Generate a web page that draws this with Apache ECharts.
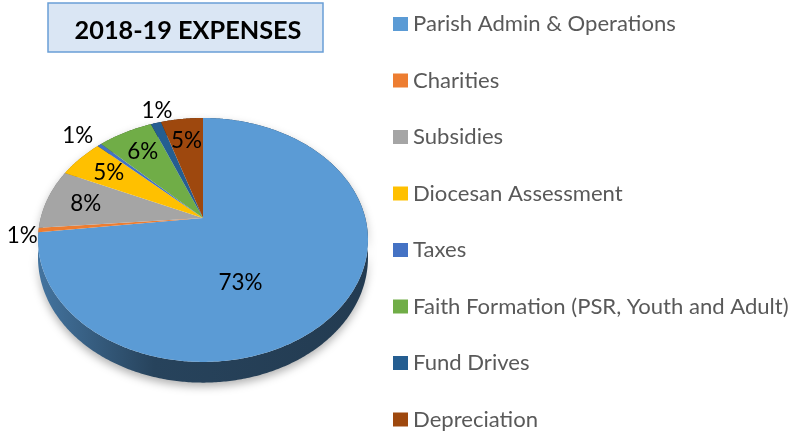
<!DOCTYPE html>
<html>
<head>
<meta charset="utf-8">
<script src="https://cdn.jsdelivr.net/npm/echarts@6/dist/echarts.min.js"></script>
<style>
  html, body { margin: 0; padding: 0; background: #fff; }
  #chart { width: 794px; height: 435px; }
</style>
</head>
<body>
<div id="chart"></div>
<script>
// data (shares in %)
const categories = [
  "Parish Admin & Operations",
  "Charities",
  "Subsidies",
  "Diocesan Assessment",
  "Taxes",
  "Faith Formation (PSR, Youth and Adult)",
  "Fund Drives",
  "Depreciation"
];
const values = [73.1, 0.6, 8.0, 5.3, 0.5, 6.4, 1.2, 4.9];
const colors = ["#5b9bd5", "#ed7d31", "#a5a5a5", "#ffc000", "#4472c4", "#70ad47", "#255e91", "#9e480e"];
const titleText = "2018-19 EXPENSES";

// label tweaks (pixels) so the percentages sit where Excel put them
const labelNudge = [[-27, 23], [9, 4], [0, 0], [0, 0], [-8, 0], [0, 0], [7, 0], [0, 0]];

// pie geometry: tilted disc with a bit of perspective
const CX = 203, CY = 218, RX = 162.3, RY = 118, T = 0.18, DEPTH = 17;
const FONT = "Lato";

const ctx = document.createElement("canvas").getContext("2d");
function fit(text, weight, width) {
  ctx.font = weight + " 100px " + FONT;
  return 100 * width / ctx.measureText(text).width;
}
const legendSize = fit(categories[5], "normal", 376);
const labelSize = fit("73%", "normal", 44);
const titleSize = fit(titleText, "bold", 227);

const total = values.reduce((a, b) => a + b, 0);
const startAng = [], endAng = [];
let acc = 0;
values.forEach((v, i) => {
  startAng[i] = acc / total * Math.PI * 2;
  acc += v;
  endAng[i] = acc / total * Math.PI * 2;
});

// angle measured clockwise from 12 o'clock
function proj(a, f, z) {
  const u = Math.sin(a) * f, v = -Math.cos(a) * f;
  const w = 1 - T * v;
  return [CX + RX * u / w, CY + (RY * v + z) / w];
}
function rim(a0, a1, z) {
  const pts = [];
  const n = Math.max(2, Math.ceil((a1 - a0) / 0.01));
  for (let k = 0; k <= n; k++) pts.push(proj(a0 + (a1 - a0) * k / n, 1, z));
  return pts;
}

function shade(hex, k) {
  const n = parseInt(hex.slice(1), 16);
  const r = Math.round(((n >> 16) & 255) * k);
  const g = Math.round(((n >> 8) & 255) * k);
  const b = Math.round((n & 255) * k);
  return "rgb(" + r + "," + g + "," + b + ")";
}
const sideFill = c => new echarts.graphic.LinearGradient(CX - RX, 0, CX + RX, 0, [
  { offset: 0, color: shade(c, 0.74) },
  { offset: 0.35, color: shade(c, 0.43) },
  { offset: 1, color: shade(c, 0.38) }
], true);

const series = [{
  name: "side",
  type: "custom",
  coordinateSystem: "none",
  silent: true,
  z: 1,
  data: values,
  renderItem: (params) => {
    const i = params.dataIndex;
    const top = rim(startAng[i], endAng[i], 0);
    const bottom = rim(startAng[i], endAng[i], DEPTH).reverse();
    return {
      type: "polygon",
      shape: { points: top.concat(bottom) },
      style: {
        fill: sideFill(colors[i]),
        shadowBlur: 8,
        shadowColor: "rgba(0,0,0,0.3)",
        shadowOffsetY: 4
      }
    };
  }
}];

categories.forEach((name, i) => {
  series.push({
    name: name,
    type: "custom",
    coordinateSystem: "none",
    silent: true,
    z: 2,
    itemStyle: { color: colors[i] },
    data: [values[i]],
    renderItem: () => {
      const pts = [[CX, CY]].concat(rim(startAng[i], endAng[i], 0));
      const share = values[i] / total;
      const f = share > 0.5 ? 0.5 : (share < 0.02 ? 1.15 : 0.75);
      const p = proj((startAng[i] + endAng[i]) / 2, f, 0);
      return {
        type: "group",
        children: [
          { type: "polygon", shape: { points: pts }, style: { fill: colors[i] } },
          {
            type: "text",
            z2: 10,
            style: {
              x: p[0] + labelNudge[i][0],
              y: p[1] + labelNudge[i][1],
              text: Math.round(share * 100) + "%",
              fill: "#000",
              fontSize: labelSize,
              fontFamily: FONT,
              align: "center",
              verticalAlign: "middle"
            }
          }
        ]
      };
    }
  });
});

const chart = echarts.init(document.getElementById("chart"), null, { renderer: "canvas" });
chart.setOption({
  animation: false,
  legend: {
    orient: "vertical",
    left: 393,
    top: 13,
    padding: 0,
    height: 422,
    icon: "rect",
    itemWidth: 15,
    itemHeight: 14,
    itemGap: 34.5,
    selectedMode: false,
    data: categories,
    textStyle: { color: "#595959", fontFamily: FONT, fontSize: legendSize, lineHeight: 20 }
  },
  graphic: [
    {
      type: "rect",
      shape: { x: 48, y: 3, width: 275, height: 49 },
      style: { fill: "#dae6f4", stroke: "#6a9fd6", lineWidth: 1.5 }
    },
    {
      type: "text",
      style: {
        x: 188, y: 31,
        text: titleText,
        fill: "#000",
        fontSize: titleSize,
        fontWeight: "bold",
        fontFamily: FONT,
        align: "center",
        verticalAlign: "middle"
      }
    }
  ],
  series: series
});
</script>
</body>
</html>
